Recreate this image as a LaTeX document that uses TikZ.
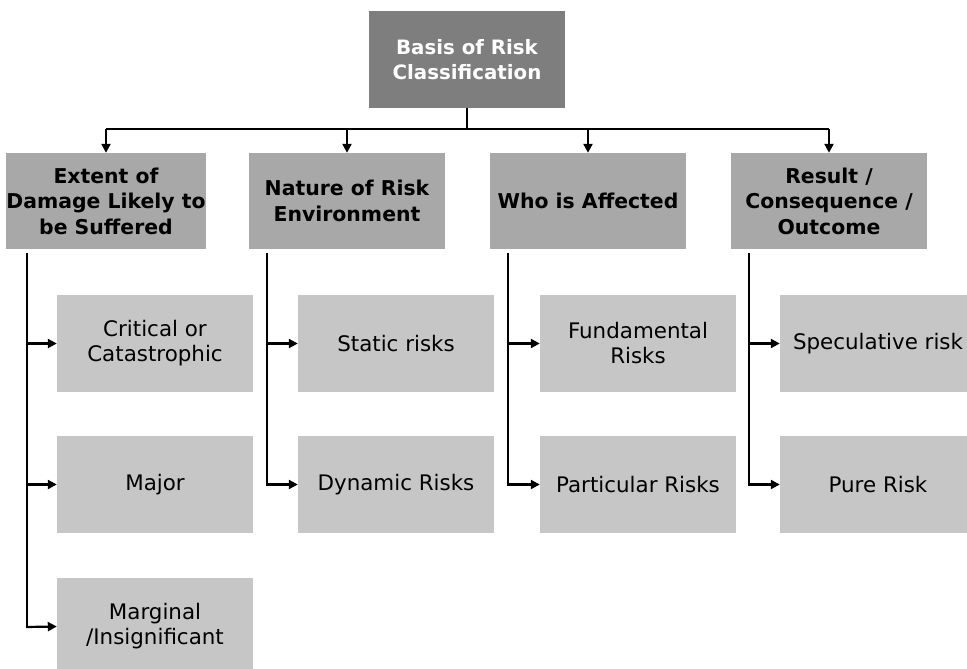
\documentclass[tikz,border=0pt]{standalone}
\usepackage{fontspec}
\setmainfont{DejaVu Sans}
\usetikzlibrary{arrows.meta}
\definecolor{topgray}{HTML}{7E7E7E}
\definecolor{midgray}{HTML}{A8A8A8}
\definecolor{lowgray}{HTML}{C6C6C6}
\tikzset{
  topbox/.style={fill=topgray, text=white, font=\fontsize{19.8}{25}\selectfont\bfseries, minimum width=196pt, minimum height=97pt, align=center, inner sep=0pt},
  catbox/.style={fill=midgray, text=black, font=\fontsize{20.4}{25.5}\selectfont\bfseries, minimum width=196pt, minimum height=96pt, align=center, inner sep=0pt},
  itembox/.style={fill=lowgray, text=black, font=\fontsize{21.4}{25}\selectfont, minimum width=196pt, minimum height=97pt, align=center, inner sep=0pt},
  conn/.style={line width=2.2pt, black},
  arr/.style={conn, -{Triangle[length=9pt,width=9pt]}}
}
\begin{document}
\begin{tikzpicture}[x=1pt,y=-1pt]
\clip (0,0) rectangle (967,669);
\fill[white] (0,0) rectangle (967,669);
% top
\node[topbox] (root) at (467,59.5) {Basis of Risk\\Classification};
% categories
\node[catbox] (c1) at (106,201) {Extent of\\Damage Likely to\\be Suffered};
\node[catbox] (c2) at (347,201) {Nature of Risk\\Environment};
\node[catbox] (c3) at (588,201) {Who is Affected};
\node[catbox] (c4) at (829,201) {Result /\\Consequence /\\Outcome};
% items
\node[itembox] (i11) at (155,343.5) {Critical or\\Catastrophic};
\node[itembox] (i12) at (155,484.5) {Major};
\node[itembox] (i13) at (155,626.5) {Marginal\\/Insignificant};
\node[itembox] (i21) at (396,343.5) {Static risks};
\node[itembox] (i22) at (396,484.5) {Dynamic Risks};
\node[itembox] (i31) at (638,343.5) {Fundamental\\Risks};
\node[itembox] (i32) at (638,484.5) {Particular Risks};
\node[itembox] (i41) at (878,343.5) {Speculative risk};
\node[itembox] (i42) at (878,484.5) {Pure Risk};
% bus
\coordinate (bus) at (467,129);
\coordinate (busL) at (106,129);
\coordinate (busR) at (829,129);
\draw[conn] (root.south) -- (bus);
\draw[conn] (busL) -- (busR);
\draw[arr] (busL) -- (c1.north);
\draw[arr] (347,129) -- (c2.north);
\draw[arr] (588,129) -- (c3.north);
\draw[arr] (busR) -- (c4.north);
% column spines
\coordinate (s1) at (27,253);
\coordinate (s2) at (267,253);
\coordinate (s3) at (508,253);
\coordinate (s4) at (749,253);
\draw[conn] (s1) -- (27,627);
\draw[arr] (26,627) -- (i13.west);
\draw[arr] (27,343.5) -- (i11.west);
\draw[arr] (27,484.5) -- (i12.west);
\draw[conn] (s2) -- (267,484.5);
\draw[arr] (267,343.5) -- (i21.west);
\draw[arr] (266,484.5) -- (i22.west);
\draw[conn] (s3) -- (508,484.5);
\draw[arr] (508,343.5) -- (i31.west);
\draw[arr] (507,484.5) -- (i32.west);
\draw[conn] (s4) -- (749,484.5);
\draw[arr] (749,343.5) -- (i41.west);
\draw[arr] (748,484.5) -- (i42.west);
\end{tikzpicture}
\end{document}
